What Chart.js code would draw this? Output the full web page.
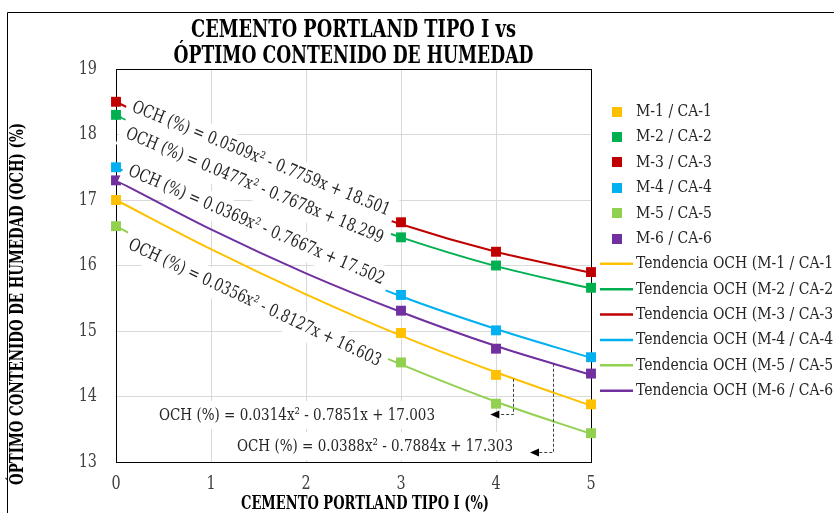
<!DOCTYPE html>
<html>
<head>
<meta charset="utf-8">
<script src="https://cdn.jsdelivr.net/npm/chart.js@4.4.0/dist/chart.umd.min.js"></script>
<style>
  html, body { margin: 0; padding: 0; background: #fff; }
</style>
</head>
<body>
<canvas id="ochChart" width="834" height="513"></canvas>
<script>
// --- data ---
const xValues = [0, 3, 4, 5];            // % cemento
const trendX = [0, 1, 2, 3, 4, 5];
const seriesNames = ['M-1 / CA-1', 'M-2 / CA-2', 'M-3 / CA-3', 'M-4 / CA-4', 'M-5 / CA-5', 'M-6 / CA-6'];
const seriesColors = ['#FFC000', '#00B050', '#C00000', '#00B0F0', '#92D050', '#7030A0'];

const m1 = [17.00, 14.97, 14.33, 13.88];
const m2 = [18.30, 16.43, 16.00, 15.66];
const m3 = [18.50, 16.66, 16.21, 15.90];
const m4 = [17.50, 15.55, 15.01, 14.60];
const m5 = [16.60, 14.52, 13.89, 13.44];
const m6 = [17.30, 15.31, 14.73, 14.35];

// trend lines as read at each integer x
const t1 = [17.00, 16.25, 15.56, 14.93, 14.37, 13.86];
const t2 = [18.30, 17.58, 16.95, 16.43, 15.99, 15.65];
const t3 = [18.50, 17.78, 17.15, 16.63, 16.21, 15.89];
const t4 = [17.50, 16.77, 16.12, 15.53, 15.03, 14.59];
const t5 = [16.60, 15.83, 15.12, 14.49, 13.92, 13.43];
const t6 = [17.30, 16.55, 15.88, 15.29, 14.77, 14.33];

const markerSeries = [m1, m2, m3, m4, m5, m6];
const trendSeries = [t1, t2, t3, t4, t5, t6];

const xTicks = [0, 1, 2, 3, 4, 5];
const yTicks = [13, 14, 15, 16, 17, 18, 19];

const equations = [
    'OCH (%) = 0.0314x² - 0.7851x + 17.003',
    'OCH (%) = 0.0477x² - 0.7678x + 18.299',
    'OCH (%) = 0.0509x² - 0.7759x + 18.501',
    'OCH (%) = 0.0369x² - 0.7667x + 17.502',
    'OCH (%) = 0.0356x² - 0.8127x + 16.603',
    'OCH (%) = 0.0388x² - 0.7884x + 17.303'
];
// label centres in data units, rotation in degrees
const eqX = [1.905, 1.457, 1.526, 1.476, 1.459, 2.726];
const eqY = [13.718, 17.211, 17.626, 16.612, 15.427, 13.244];
const eqRot = [0, 22.4, 22.2, 23.3, 25.2, 0];
// leaders for the two horizontal labels: [x, yLine, yCorner, xEnd]
const leaders = [[4.18, 14.27, 13.73, 3.94], [4.60, 14.50, 13.157, 4.358]];

const FONT = '"DejaVu Serif", "Liberation Serif", serif';

function drawText(ctx, s, x, y, o) {
    ctx.save();
    ctx.font = (o.bold ? 'bold ' : '') + o.size + 'px ' + FONT;
    ctx.textBaseline = 'middle';
    ctx.textAlign = o.align || 'center';
    const w = ctx.measureText(s).width;
    const sx = o.width ? o.width / w : (o.sx || 1);
    ctx.translate(x, y);
    if (o.rot) ctx.rotate(o.rot);
    if (o.box) {
        ctx.fillStyle = '#fff';
        ctx.fillRect(-w * sx / 2 - 6, -o.box / 2, w * sx + 12, o.box);
    }
    ctx.scale(sx, 1);
    ctx.fillStyle = o.color || '#262626';
    ctx.fillText(s, 0, 0);
    ctx.restore();
}

const decor = {
    id: 'decor',
    beforeDraw(chart) {
        const ctx = chart.ctx;
        ctx.save();
        ctx.fillStyle = '#fff';
        ctx.fillRect(0, 0, chart.width, chart.height);
        // outer chart frame (partly outside the photo)
        ctx.strokeStyle = '#000';
        ctx.lineWidth = 1;
        ctx.beginPath();
        ctx.moveTo(7.5, chart.height);
        ctx.lineTo(7.5, 12.5);
        ctx.lineTo(chart.width, 12.5);
        ctx.stroke();
        ctx.restore();
    },
    beforeDatasetsDraw(chart) {
        const ctx = chart.ctx, a = chart.chartArea;
        ctx.save();
        ctx.strokeStyle = '#000';
        ctx.lineWidth = 1;
        ctx.strokeRect(a.left + 0.5, a.top + 0.5, a.right - a.left, a.bottom - a.top);
        ctx.restore();
    },
    afterDatasetsDraw(chart) {
        const ctx = chart.ctx, xs = chart.scales.x, ys = chart.scales.y;
        // trendline equations with white label boxes
        equations.forEach((s, i) => {
            drawText(ctx, s, xs.getPixelForValue(eqX[i]), ys.getPixelForValue(eqY[i]),
                { size: 17.5, width: eqRot[i] ? 277 : 276, rot: eqRot[i] * Math.PI / 180, box: 28, color: '#262626' });
        });
        // dashed leaders with arrow heads
        ctx.save();
        ctx.strokeStyle = '#404040';
        ctx.fillStyle = '#000';
        ctx.lineWidth = 1;
        leaders.forEach(l => {
            const x0 = Math.round(xs.getPixelForValue(l[0])) + 0.5;
            const y0 = ys.getPixelForValue(l[1]);
            const y1 = Math.round(ys.getPixelForValue(l[2])) + 0.5;
            const x1 = xs.getPixelForValue(l[3]);
            ctx.setLineDash([3, 2]);
            ctx.beginPath();
            ctx.moveTo(x0, y0);
            ctx.lineTo(x0, y1);
            ctx.lineTo(x1 + 6, y1);
            ctx.stroke();
            ctx.setLineDash([]);
            ctx.beginPath();
            ctx.moveTo(x1, y1);
            ctx.lineTo(x1 + 9, y1 - 4);
            ctx.lineTo(x1 + 9, y1 + 4);
            ctx.closePath();
            ctx.fill();
        });
        ctx.restore();
    },
    afterDraw(chart) {
        const ctx = chart.ctx, a = chart.chartArea, xs = chart.scales.x, ys = chart.scales.y;
        const midX = (a.left + a.right) / 2;
        // title
        drawText(ctx, 'CEMENTO PORTLAND TIPO I vs', midX, 30, { size: 25, bold: true, width: 325, color: '#000' });
        drawText(ctx, 'ÓPTIMO CONTENIDO DE HUMEDAD', midX, 56, { size: 25, bold: true, width: 360, color: '#000' });
        // axis titles
        drawText(ctx, 'CEMENTO PORTLAND TIPO I (%)', 365, 504, { size: 19, bold: true, width: 248, color: '#000' });
        drawText(ctx, 'ÓPTIMO CONTENIDO DE HUMEDAD (OCH) (%)', 18, 304, { size: 19, bold: true, width: 362, rot: -Math.PI / 2, color: '#000' });
        // tick labels from the library's scales
        ys.ticks.forEach(t => {
            drawText(ctx, String(t.value), a.left - 19, ys.getPixelForValue(t.value), { size: 18, sx: 0.8, align: 'right', color: '#404040' });
        });
        xs.ticks.forEach(t => {
            drawText(ctx, String(t.value), xs.getPixelForValue(t.value), a.bottom + 22, { size: 18, sx: 0.8, color: '#404040' });
        });
        // legend
        ctx.save();
        ctx.font = '17px ' + FONT;
        const lsx = 76 / ctx.measureText('M-1 / CA-1').width;
        ctx.restore();
        const rowY = i => 111.7 + i * 25.36;
        seriesNames.forEach((n, i) => {
            ctx.fillStyle = seriesColors[i];
            ctx.fillRect(612, Math.round(rowY(i)) - 5, 10, 10);
            drawText(ctx, n, 636, rowY(i), { size: 17, sx: lsx, align: 'left' });
        });
        seriesNames.forEach((n, i) => {
            const y = rowY(i + 6);
            ctx.save();
            ctx.strokeStyle = seriesColors[i];
            ctx.lineWidth = 2.5;
            ctx.beginPath();
            ctx.moveTo(600, y);
            ctx.lineTo(633, y);
            ctx.stroke();
            ctx.restore();
            drawText(ctx, 'Tendencia OCH (' + n + ')', 636, y, { size: 17, sx: lsx, align: 'left' });
        });
    }
};

const markerSets = markerSeries.map((vals, i) => ({
    label: seriesNames[i],
    data: xValues.map((x, j) => ({ x: x, y: vals[j] })),
    showLine: false,
    pointStyle: 'rect',
    pointRadius: 7,
    pointHoverRadius: 7,
    pointBorderWidth: 0,
    backgroundColor: seriesColors[i],
    borderColor: seriesColors[i],
    clip: false,
    order: 0
}));

const trendSets = trendSeries.map((vals, i) => ({
    label: 'Tendencia OCH (' + seriesNames[i] + ')',
    data: trendX.map((x, j) => ({ x: x, y: vals[j] })),
    showLine: true,
    pointRadius: 0,
    pointHoverRadius: 0,
    borderColor: seriesColors[i],
    borderWidth: 2,
    cubicInterpolationMode: 'monotone',
    clip: false,
    order: 1
}));

const ctxOch = document.getElementById('ochChart').getContext('2d');
const ochChart = new Chart(ctxOch, {
    type: 'scatter',
    data: { datasets: markerSets.concat(trendSets) },
    plugins: [decor],
    options: {
        responsive: false,
        animation: false,
        devicePixelRatio: 1,
        layout: { padding: { left: 0, top: 69, right: 243, bottom: 0 } },
        plugins: {
            legend: { display: false },
            tooltip: { enabled: false }
        },
        scales: {
            x: {
                type: 'linear',
                min: 0,
                max: 5,
                afterBuildTicks: s => { s.ticks = xTicks.map(v => ({ value: v })); },
                afterFit: s => { s.height = 51; },
                ticks: { display: false },
                grid: { color: '#D9D9D9', lineWidth: 1, drawTicks: false },
                border: { display: false }
            },
            y: {
                type: 'linear',
                min: 13,
                max: 19,
                afterBuildTicks: s => { s.ticks = yTicks.map(v => ({ value: v })); },
                afterFit: s => { s.width = 116; },
                ticks: { display: false },
                grid: { color: '#D9D9D9', lineWidth: 1, drawTicks: false },
                border: { display: false }
            }
        }
    }
});
</script>
</body>
</html>
